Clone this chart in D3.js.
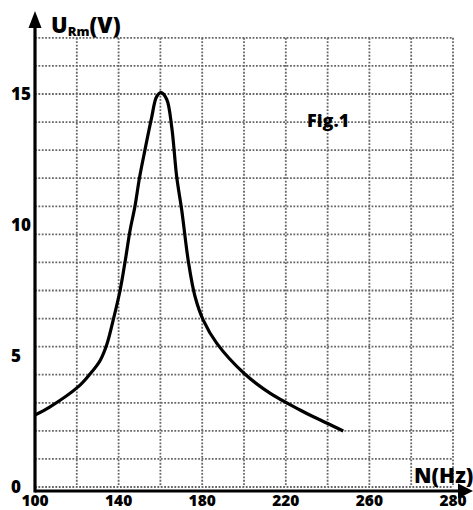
<!DOCTYPE html>
<html><head><meta charset="utf-8">
<script src="https://cdn.jsdelivr.net/npm/d3@7"></script>
<style>
html,body{margin:0;padding:0;background:#fff;}
svg{display:block;}
text{font-family:"Open Sans",Lato,sans-serif;font-weight:800;fill:#000;}
</style></head>
<body>
<svg id="chart" width="473" height="510"></svg>
<script>
// Data: frequency N (Hz) and amplitude U_Rm (V)
const freqN = [100,107,120.6,126.3,131.1,134.4,137.5,140.7,143,145.5,147.8,150,152.6,155.8,158.2,160.3,163,165.4,167.8,170.2,173.4,176.6,180.5,187,200,212.4,226.8,233.2,247.5];
const voltU = [2.75,3.05,3.82,4.31,4.82,5.45,6.4,7.5,8.55,9.8,10.7,11.8,12.86,14.1,14.9,15.05,14.8,13.75,11.84,10.57,8.6,7.26,6.37,5.48,4.34,3.58,2.94,2.68,2.14];
const xTickValues = [100,140,180,220,260,300];
const xTickLabels = ["100","140","180","220","260","280"];
const yTickValues = [0,5,10,15];
const yTickLabels = ["0","5","10","15"];
const xGridValues = d3.range(100, 301, 20);
const yGridStep = 15/14;
const yGridCount = 17;

const svg = d3.select("#chart");
const x = d3.scaleLinear().domain([100,300]).range([35,453]);
const y = d3.scaleLinear().domain([0,15]).range([487,94]);
const yGridValues = d3.range(yGridCount).map(k => k*yGridStep);
const yTop = y(yGridValues[yGridValues.length-1]);

// grid
const grid = svg.append("g").attr("stroke","#666").attr("stroke-width",1.8).attr("stroke-dasharray","1.8,1.6");
grid.selectAll("line.v").data(xGridValues.slice(1)).join("line")
  .attr("x1",d=>x(d)).attr("x2",d=>x(d)).attr("y1",yTop).attr("y2",y(0));
grid.selectAll("line.h").data(yGridValues).join("line")
  .attr("x1",x(100)).attr("x2",x(300)).attr("y1",d=>y(d)).attr("y2",d=>y(d));

// axes
const axisY = y(0)+4;
const ax = svg.append("g");
ax.append("line").attr("x1",x(100)).attr("x2",458).attr("y1",axisY).attr("y2",axisY)
  .attr("stroke","#000").attr("stroke-width",3.2);
ax.append("path").attr("d",`M458,${axisY-7.5}L473,${axisY}L458,${axisY+7.5}Z`).attr("fill","#000");
ax.append("line").attr("x1",x(100)).attr("x2",x(100)).attr("y1",axisY+1.5).attr("y2",27)
  .attr("stroke","#000").attr("stroke-width",3.2);
ax.append("path").attr("d",`M${x(100)-6.5},28L${x(100)},11L${x(100)+6.5},28Z`).attr("fill","#000");

// tick labels
svg.append("g").selectAll("text").data(xTickValues).join("text")
  .attr("x",d=>x(d)).attr("y",506).attr("text-anchor","middle")
  .style("font-size","15.5px").text((d,i)=>xTickLabels[i]);
svg.append("g").selectAll("text").data(yTickValues).join("text")
  .attr("x",11).attr("y",d=>y(d)).attr("dy","0.36em").attr("text-anchor","start")
  .style("font-size","17px").text((d,i)=>yTickLabels[i]);

// axis titles
const t = svg.append("text").attr("x",51).attr("y",33).style("font-size","22px");
t.append("tspan").text("U");
t.append("tspan").attr("dy",3).style("font-size","13px").text("Rm");
t.append("tspan").attr("dy",-3).text("(V)");
svg.append("text").attr("x",414).attr("y",483).style("font-size","21px").text("N(Hz)");
svg.append("text").attr("x",307).attr("y",127).style("font-size","18px").text("Fig.1");

// curve
const line = d3.line().x((d,i)=>x(freqN[i])).y(d=>y(d)).curve(d3.curveCatmullRom.alpha(0.5));
svg.append("path").datum(voltU).attr("d",line).attr("fill","none")
  .attr("stroke","#000").attr("stroke-width",3.2).attr("stroke-linejoin","round");
</script>
</body></html>
